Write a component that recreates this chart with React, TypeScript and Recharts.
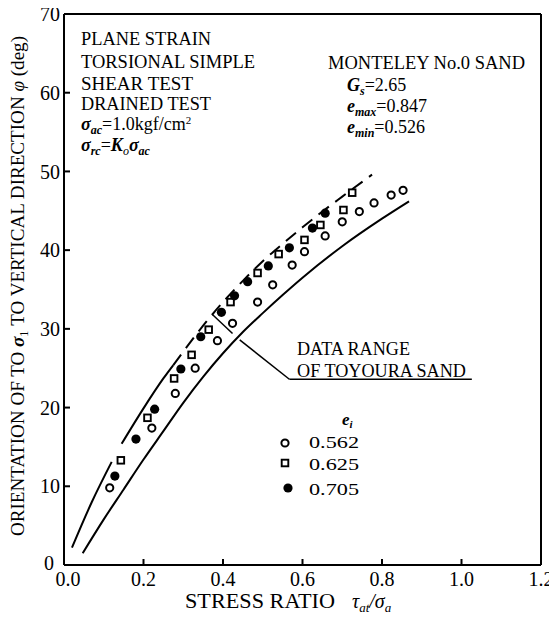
import React from 'react';
import { ComposedChart, XAxis, YAxis, Line, Scatter, ReferenceLine, Customized } from 'recharts';

const xTicks = [0, 0.2, 0.4, 0.6, 0.8, 1.0, 1.2];
const yTicks = [0, 10, 20, 30, 40, 50, 60, 70];

// e_i = 0.562 (open circles)
const e562X = [0.115, 0.221, 0.28, 0.33, 0.386, 0.424, 0.487, 0.525, 0.574, 0.605, 0.657, 0.7, 0.743, 0.78, 0.823, 0.853];
const e562Y = [9.8, 17.4, 21.8, 25.0, 28.5, 30.7, 33.4, 35.6, 38.1, 39.8, 41.8, 43.6, 44.9, 46.0, 47.0, 47.6];
// e_i = 0.625 (open squares)
const e625X = [0.143, 0.21, 0.277, 0.321, 0.364, 0.419, 0.487, 0.54, 0.605, 0.645, 0.703, 0.725];
const e625Y = [13.3, 18.7, 23.7, 26.7, 29.9, 33.4, 37.1, 39.5, 41.3, 43.2, 45.1, 47.3];
// e_i = 0.705 (filled circles)
const e705X = [0.128, 0.181, 0.228, 0.294, 0.344, 0.396, 0.429, 0.462, 0.514, 0.567, 0.625, 0.657];
const e705Y = [11.3, 16.0, 19.8, 24.9, 29.0, 32.1, 34.2, 36.0, 38.0, 40.3, 42.8, 44.7];

// Data range of Toyoura sand: upper bound (in three drawn pieces) and lower bound
const upperAX = [0.02, 0.07, 0.12];
const upperAY = [2.2, 8.0, 13.1];
const upperBX = [0.145, 0.2, 0.25, 0.275];
const upperBY = [15.4, 19.9, 23.7, 25.4];
const upperCX = [0.275, 0.3, 0.35, 0.4, 0.45, 0.5, 0.55, 0.6, 0.65, 0.7, 0.775];
const upperCY = [25.4, 27.1, 30.4, 33.4, 36.1, 38.6, 40.8, 42.9, 44.9, 46.8, 49.6];
const lowerX = [0.047, 0.1, 0.15, 0.2, 0.25, 0.3, 0.35, 0.4, 0.45, 0.5, 0.55, 0.6, 0.7, 0.8, 0.868];
const lowerY = [1.5, 5.8, 9.6, 13.4, 17.0, 20.6, 23.9, 26.9, 29.6, 32.0, 34.3, 36.5, 40.5, 44.0, 46.2];

const zip = (xs: number[], ys: number[]) => xs.map((x, i) => ({ x, y: ys[i] }));

const s562 = zip(e562X, e562Y);
const s625 = zip(e625X, e625Y);
const s705 = zip(e705X, e705Y);
const upA = zip(upperAX, upperAY);
const upB = zip(upperBX, upperBY);
const upC = zip(upperCX, upperCY);
const low = zip(lowerX, lowerY);

const FONT = "'Liberation Serif', 'DejaVu Serif', 'Times New Roman', serif";

const OpenCircle = (p: any) => (
  <circle cx={p.cx} cy={p.cy} r={3.6} fill="#fff" stroke="#000" strokeWidth={2} />
);
const OpenSquare = (p: any) => (
  <rect x={p.cx - 3.3} y={p.cy - 3.3} width={6.6} height={6.6} fill="#fff" stroke="#000" strokeWidth={1.9} />
);
const FilledCircle = (p: any) => <circle cx={p.cx} cy={p.cy} r={4.6} fill="#000" />;

const XTick = (p: any) => {
  const v = p.payload.value as number;
  return (
    <text x={p.x + (v === 0 ? 4 : 0)} y={p.y} dy="0.71em" textAnchor="middle" fontSize={20} fill="#000" style={{ fontFamily: FONT }}>
      {v.toFixed(1)}
    </text>
  );
};

const YTick = (p: any) => {
  const v = p.payload.value as number;
  return (
    <text x={p.x - (v === 0 ? 6 : 0)} y={p.y - (v === 0 ? 2 : 0)} dy="0.355em" textAnchor="end" fontSize={20} fill="#000" style={{ fontFamily: FONT }}>
      {v}
    </text>
  );
};

const Annotations = () => (
  <g transform="translate(0,6)" style={{ fontFamily: FONT }} fill="#000">
    {/* Y axis title */}
    <text transform="rotate(-90)" x={-278} y={16} textAnchor="middle" fontSize={19} textLength={500} lengthAdjust="spacingAndGlyphs">
      ORIENTATION OF TO <tspan fontStyle="italic" fontWeight="bold">σ</tspan>
      <tspan fontSize={12} dy={4}>1</tspan>
      <tspan dy={-4}> TO VERTICAL DIRECTION </tspan>
      <tspan fontStyle="italic">φ</tspan> (deg)
    </text>
    {/* X axis title */}
    <text x={177} y={600} fontSize={21} textLength={150} lengthAdjust="spacingAndGlyphs">STRESS RATIO</text>
    <text x={344} y={600} fontSize={20} fontStyle="italic">
      τ<tspan fontSize={13} dy={4}>at</tspan><tspan dy={-4}>/σ</tspan><tspan fontSize={13} dy={4}>a</tspan>
    </text>
    {/* Test conditions */}
    <g fontSize={19}>
      <text x={73} y={37} textLength={130} lengthAdjust="spacingAndGlyphs">PLANE STRAIN</text>
      <text x={73} y={60} textLength={174} lengthAdjust="spacingAndGlyphs">TORSIONAL SIMPLE</text>
      <text x={73} y={82} textLength={112} lengthAdjust="spacingAndGlyphs">SHEAR TEST</text>
      <text x={73} y={102} textLength={130} lengthAdjust="spacingAndGlyphs">DRAINED TEST</text>
      <text x={73} y={122} fontSize={18}>
        <tspan fontStyle="italic" fontWeight="bold">σ</tspan>
        <tspan fontSize={12} dy={4} fontStyle="italic" fontWeight="bold">ac</tspan>
        <tspan dy={-4}>=1.0kgf/cm</tspan>
        <tspan fontSize={11} dy={-6}>2</tspan>
      </text>
      <text x={73} y={143} fontSize={18}>
        <tspan fontStyle="italic" fontWeight="bold">σ</tspan>
        <tspan fontSize={12} dy={4} fontStyle="italic" fontWeight="bold">rc</tspan>
        <tspan dy={-4}>=</tspan>
        <tspan fontStyle="italic" fontWeight="bold">K</tspan>
        <tspan fontSize={12} dy={4} fontStyle="italic">o</tspan>
        <tspan dy={-4} fontStyle="italic" fontWeight="bold">σ</tspan>
        <tspan fontSize={12} dy={4} fontStyle="italic" fontWeight="bold">ac</tspan>
      </text>
    </g>
    {/* Sand properties */}
    <g fontSize={19}>
      <text x={320} y={61} textLength={197} lengthAdjust="spacingAndGlyphs">MONTELEY No.0 SAND</text>
      <text x={339} y={83} fontSize={18}>
        <tspan fontStyle="italic" fontWeight="bold">G</tspan>
        <tspan fontSize={12} dy={4} fontStyle="italic" fontWeight="bold">s</tspan>
        <tspan dy={-4}>=2.65</tspan>
      </text>
      <text x={339} y={104} fontSize={18}>
        <tspan fontStyle="italic" fontWeight="bold">e</tspan>
        <tspan fontSize={12} dy={4} fontStyle="italic" fontWeight="bold">max</tspan>
        <tspan dy={-4}>=0.847</tspan>
      </text>
      <text x={339} y={125} fontSize={18}>
        <tspan fontStyle="italic" fontWeight="bold">e</tspan>
        <tspan fontSize={12} dy={4} fontStyle="italic" fontWeight="bold">min</tspan>
        <tspan dy={-4}>=0.526</tspan>
      </text>
    </g>
    {/* Data range annotation */}
    <text x={289} y={347} fontSize={19} textLength={113} lengthAdjust="spacingAndGlyphs">DATA RANGE</text>
    <text x={289} y={369} fontSize={19} textLength={169} lengthAdjust="spacingAndGlyphs">OF TOYOURA SAND</text>
    {/* Legend */}
    <text x={334} y={417} fontSize={17} fontStyle="italic" fontWeight="bold">
      e<tspan fontSize={11} dy={3}>i</tspan>
    </text>
    <circle cx={277} cy={435} r={3.6} fill="#fff" stroke="#000" strokeWidth={2} />
    <rect x={277 - 3.3} y={455 - 3.3} width={6.6} height={6.6} fill="#fff" stroke="#000" strokeWidth={1.9} />
    <circle cx={280} cy={480} r={4.6} fill="#000" />
    <text x={301} y={440} fontSize={16} textLength={50} lengthAdjust="spacingAndGlyphs">0.562</text>
    <text x={301} y={462} fontSize={16} textLength={50} lengthAdjust="spacingAndGlyphs">0.625</text>
    <text x={301} y={487} fontSize={16} textLength={50} lengthAdjust="spacingAndGlyphs">0.705</text>
  </g>
);

const axisLine = { stroke: '#000', strokeWidth: 2 };

export default function App() {
  return (
    <div style={{ width: 549, height: 618, marginTop: -6, fontFamily: FONT }}>
      <ComposedChart width={549} height={618} margin={{ top: 6, right: 0, bottom: 0, left: 0 }}>
        <XAxis
          dataKey="x"
          type="number"
          domain={[0, 1.2]}
          ticks={xTicks}
          interval={0}
          allowDataOverflow
          height={55}
          tickSize={-6}
          tickMargin={13}
          axisLine={axisLine}
          tickLine={axisLine}
          tick={XTick}
        />
        <XAxis
          xAxisId="top"
          orientation="top"
          dataKey="x"
          type="number"
          domain={[0, 1.2]}
          ticks={xTicks}
          interval={0}
          height={6}
          tickSize={-6}
          axisLine={axisLine}
          tickLine={axisLine}
          tick={false}
        />
        <YAxis
          dataKey="y"
          type="number"
          domain={[0, 70]}
          ticks={yTicks}
          interval={0}
          allowDataOverflow
          width={56}
          tickSize={-6}
          tickMargin={10}
          axisLine={axisLine}
          tickLine={axisLine}
          tick={YTick}
        />
        <YAxis
          yAxisId="right"
          orientation="right"
          dataKey="y"
          type="number"
          domain={[0, 70]}
          ticks={yTicks}
          interval={0}
          width={16}
          tickSize={-6}
          axisLine={axisLine}
          tickLine={axisLine}
          tick={false}
        />
        <Line data={upA} dataKey="y" type="monotone" dot={false} stroke="#000" strokeWidth={2} isAnimationActive={false} />
        <Line data={upB} dataKey="y" type="monotone" dot={false} stroke="#000" strokeWidth={2} isAnimationActive={false} />
        <Line data={upC} dataKey="y" type="monotone" dot={false} stroke="#000" strokeWidth={2} strokeDasharray="13 8" isAnimationActive={false} />
        <Line data={low} dataKey="y" type="monotone" dot={false} stroke="#000" strokeWidth={2} isAnimationActive={false} />
        <ReferenceLine segment={[{ x: 0.442, y: 28.6 }, { x: 0.567, y: 23.6 }]} stroke="#000" strokeWidth={1.5} />
        <ReferenceLine segment={[{ x: 0.567, y: 23.6 }, { x: 1.026, y: 23.6 }]} stroke="#000" strokeWidth={1.5} />
        <ReferenceLine segment={[{ x: 0.374, y: 31.8 }, { x: 0.424, y: 29.4 }]} stroke="#000" strokeWidth={1.5} />
        <Scatter data={s562} shape={OpenCircle} isAnimationActive={false} />
        <Scatter data={s625} shape={OpenSquare} isAnimationActive={false} />
        <Scatter data={s705} shape={FilledCircle} isAnimationActive={false} />
        <Customized component={Annotations} />
      </ComposedChart>
    </div>
  );
}
